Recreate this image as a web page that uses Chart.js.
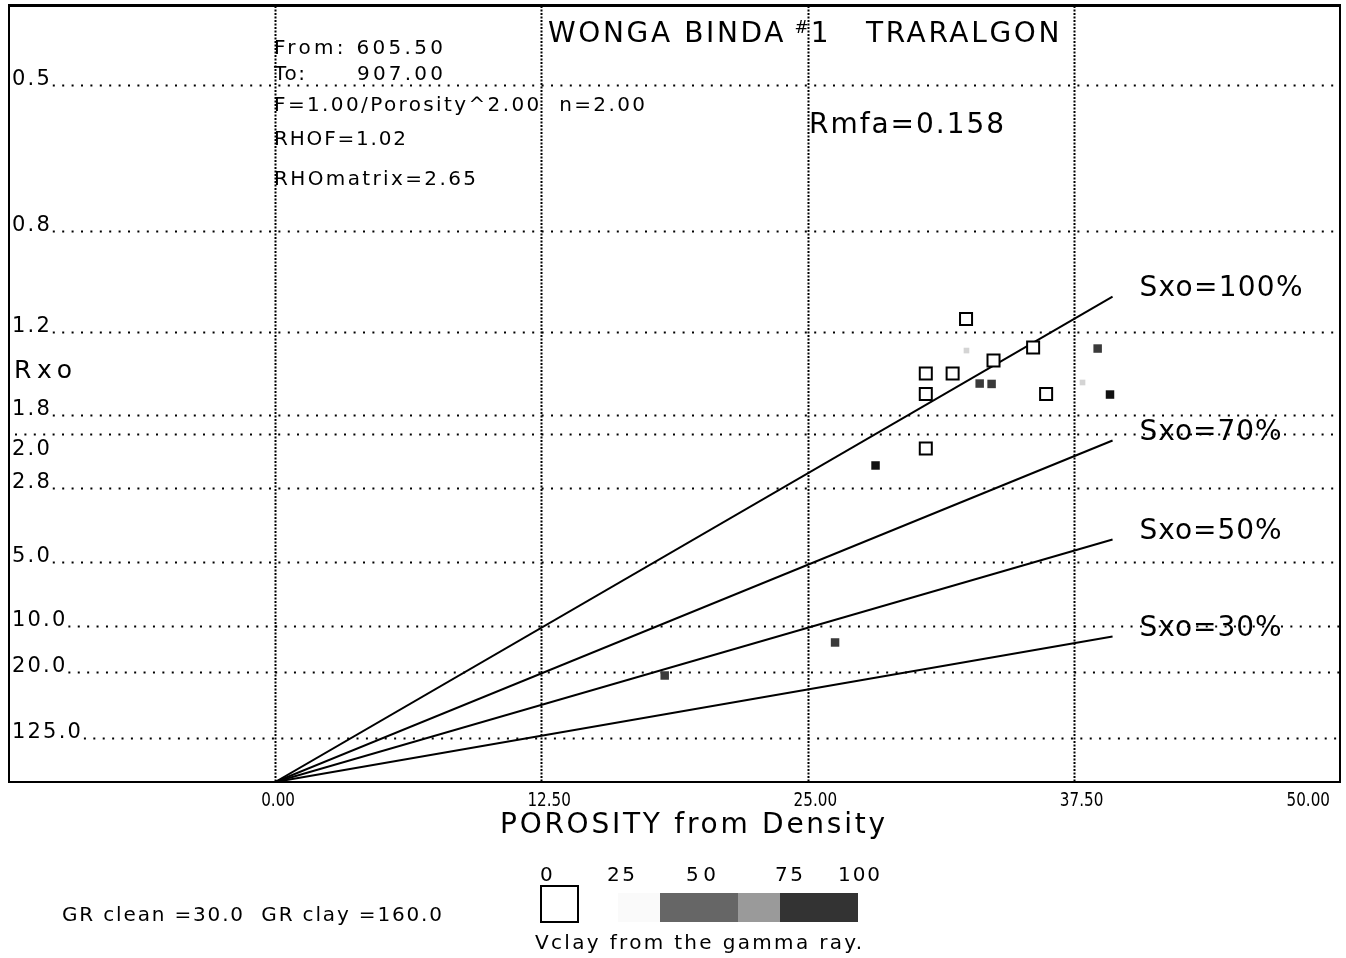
<!DOCTYPE html>
<html>
<head>
<meta charset="utf-8">
<title>WONGA BINDA #1 TRARALGON – Hingle plot</title>
<script src="https://cdn.jsdelivr.net/npm/chart.js@4.4.1/dist/chart.umd.min.js"></script>
<style>
  html, body { margin: 0; padding: 0; background: #fff; }
  #wrap { width: 1346px; height: 958px; }
</style>
</head>
<body>
<div id="wrap"><canvas id="hingle" width="1346" height="958"></canvas></div>
<script>
// Porosity axis (percent) and its printed tick labels
const porosityTicks = [0, 12.5, 25, 37.5, 50];
const porosityTickLabels = ['0.00', '12.50', '25.00', '37.50', '50.00'];

// Rxo grid levels (ohm.m) and their printed labels
const rxoTicks = [0.5, 0.8, 1.2, 1.8, 2.0, 2.8, 5.0, 10.0, 20.0, 125.0];
const rxoTickLabels = ['0.5', '0.8', '1.2', '1.8', '2.0', '2.8', '5.0', '10.0', '20.0', '125.0'];

// Samples: density porosity (%), Rxo (ohm.m), Vclay from gamma ray (%)
const samplePorosity = [32.44, 35.59, 33.73, 30.55, 31.81, 30.55, 36.20, 30.55, 38.62, 33.08, 33.64, 39.20, 28.19, 26.29, 18.29, 37.91, 32.46];
const sampleRxo      = [1.132, 1.286, 1.366, 1.455, 1.455, 1.612, 1.612, 2.183, 1.292, 1.529, 1.532, 1.617, 2.423, 12.47, 21.4, 1.521, 1.304];
const sampleVclay    = [0, 0, 0, 0, 0, 0, 0, 0, 75, 75, 75, 100, 100, 75, 75, 25, 25];

// Constant-Sxo lines: name, Rxo reached at the right-hand end porosity
const sxoLabels = ['Sxo=100%', 'Sxo=70%', 'Sxo=50%', 'Sxo=30%'];
const sxoEndRxo = [1.030, 2.082, 4.128, 11.47];
const sxoEndPorosity = 39.32;

// Vclay legend steps
const vclaySteps = [0, 25, 50, 75, 100];

// Header notes
const headerTitle = ['WONGA BINDA ', '#', '1   TRARALGON'];
const depthFrom = '605.50';
const depthTo = '907.00';
const paramLines = ['F=1.00/Porosity^2.00  n=2.00', 'RHOF=1.02', 'RHOmatrix=2.65'];
const rmfaText = 'Rmfa=0.158';
const grText = 'GR clean =30.0  GR clay =160.0';

// Hingle (m = 2) ordinate: conductivity to the power 1/2
const toAxis = r => 1 / Math.sqrt(r);

const FONT = '"DejaVu Sans", "Liberation Sans", sans-serif';

const vclayShade = v => v >= 100 ? '#111' : v >= 75 ? '#3a3a3a' : v >= 50 ? '#777' : v >= 25 ? '#d4d4d4' : '#fff';

function baseWidth(ctx, text, size) {
  ctx.save();
  ctx.font = size + 'px ' + FONT;
  ctx.letterSpacing = '0px';
  const w = ctx.measureText(text).width;
  ctx.restore();
  return w;
}

// Draw text; when `fit` is given the letter spacing is chosen so the text spans that width.
function drawText(ctx, text, x, y, size, opts) {
  const o = opts || {};
  const sx = o.hScale || 1;
  let spacing = o.spacing || 0;
  const n = [...text].length;
  const bw = baseWidth(ctx, text, size);
  if (o.fit && n > 1) spacing = (o.fit / sx - bw) / (n - 1);
  const w = (bw + spacing * (n - 1)) * sx;
  let x0 = x;
  if (o.align === 'right') x0 = x - w;
  else if (o.align === 'center') x0 = x - w / 2;
  ctx.save();
  ctx.font = size + 'px ' + FONT;
  ctx.letterSpacing = spacing + 'px';
  ctx.fillStyle = o.color || '#000';
  ctx.textBaseline = 'alphabetic';
  ctx.textAlign = 'left';
  ctx.translate(x0, y);
  ctx.scale(sx, 1);
  ctx.fillText(text, 0, 0);
  ctx.restore();
  return { w, spacing };
}

function dotted(ctx, x1, y1, x2, y2, dash, width) {
  ctx.save();
  ctx.strokeStyle = '#000';
  ctx.lineWidth = width;
  ctx.setLineDash(dash);
  ctx.beginPath();
  ctx.moveTo(x1, y1);
  ctx.lineTo(x2, y2);
  ctx.stroke();
  ctx.restore();
}

const hinglePlot = {
  id: 'hinglePlot',
  beforeDatasetsDraw(chart) {
    const { ctx, chartArea: a, scales: { x, y } } = chart;

    // vertical dotted grid at the porosity ticks (the last one is the frame)
    porosityTicks.forEach(t => {
      const px = Math.round(x.getPixelForValue(t)) + 0.5;
      if (px < a.right - 4) dotted(ctx, px, a.top, px, a.bottom, [2, 1.5], 2);
    });

    // horizontal dotted grid with Rxo labels sitting on the lines
    let prev = -1e9;
    rxoTicks.forEach((t, i) => {
      const py = Math.round(y.getPixelForValue(toAxis(t))) + 0.5;
      let startX;
      if (py - prev < 20) {
        drawText(ctx, rxoTickLabels[i], a.left + 3, py + 20, 21, { spacing: 2.2 });
        startX = a.left + 6;
      } else {
        const r = drawText(ctx, rxoTickLabels[i], a.left + 3, py - 1, 21, { spacing: 2.2 });
        startX = a.left + 3 + r.w + 3;
      }
      dotted(ctx, startX, py, a.right, py, [2, 7.4], 2);
      prev = py;
    });

    // porosity tick labels
    porosityTicks.forEach((t, i) => {
      const px = x.getPixelForValue(t);
      const lbl = porosityTickLabels[i];
      const w = baseWidth(ctx, lbl, 20) * 0.76;
      let lx = px - 14;
      if (lx + w > a.right - 6) lx = a.right - 10 - w;
      drawText(ctx, lbl, lx, a.bottom + 24, 20, { hScale: 0.76 });
    });
  },
  afterDatasetsDraw(chart) {
    const { ctx, chartArea: a, scales: { x, y } } = chart;

    // plot frame
    ctx.save();
    ctx.strokeStyle = '#000';
    ctx.lineWidth = 2;
    ctx.strokeRect(a.left, a.top, a.right - a.left, a.bottom - a.top);
    ctx.lineWidth = 3;
    ctx.beginPath();
    ctx.moveTo(a.left - 1, a.top - 0.5);
    ctx.lineTo(a.right + 1, a.top - 0.5);
    ctx.stroke();
    ctx.restore();

    // title, with a small raised '#'
    const tSize = 28, hashSize = 17;
    const titleChars = [...(headerTitle[0] + headerTitle[2])].length;
    const tBase = baseWidth(ctx, headerTitle[0], tSize) + baseWidth(ctx, headerTitle[2], tSize) + baseWidth(ctx, headerTitle[1], hashSize);
    const tSpacing = (1063 - 548 - tBase) / titleChars;
    let tx = 548;
    tx += drawText(ctx, headerTitle[0], tx, 42, tSize, { spacing: tSpacing }).w + tSpacing;
    tx += drawText(ctx, headerTitle[1], tx - 3, 33, hashSize).w - 1;
    drawText(ctx, headerTitle[2], tx, 42, tSize, { spacing: tSpacing });

    // run parameters
    drawText(ctx, 'From: ' + depthFrom, 274, 54, 20, { fit: 169 });
    drawText(ctx, 'To:', 274, 80, 20, { fit: 31 });
    drawText(ctx, depthTo, 443, 80, 20, { fit: 86, align: 'right' });
    drawText(ctx, paramLines[0], 274, 111, 20, { fit: 371 });
    drawText(ctx, paramLines[1], 274, 145, 20, { fit: 132 });
    drawText(ctx, paramLines[2], 274, 185, 20, { fit: 202 });
    drawText(ctx, rmfaText, 809, 133, 28, { fit: 195 });

    // axis names
    drawText(ctx, 'Rxo', 14, 378, 25, { fit: 58 });
    drawText(ctx, 'POROSITY from Density', 500, 833, 28, { fit: 385 });

    // Sxo line names at the line ends
    sxoLabels.forEach((s, i) => {
      const px = x.getPixelForValue(sxoEndPorosity) + 27;
      const py = y.getPixelForValue(toAxis(sxoEndRxo[i]));
      drawText(ctx, s, px, py - 1, 28, { fit: i === 0 ? 163 : 142 });
    });

    // Vclay legend
    const numX = [540, 607, 686, 775, 838];
    const numW = [12, 28, 30, 28, 42];
    vclaySteps.forEach((v, i) => drawText(ctx, String(v), numX[i], 881, 20, { fit: numW[i] }));
    ctx.save();
    ctx.strokeStyle = '#000';
    ctx.lineWidth = 2;
    ctx.fillStyle = '#fff';
    ctx.fillRect(541, 886, 37, 36);
    ctx.strokeRect(541, 886, 37, 36);
    ctx.fillStyle = '#fafafa';
    ctx.fillRect(618, 893, 42, 29);
    ctx.fillStyle = '#666';
    ctx.fillRect(660, 893, 78, 29);
    ctx.fillStyle = '#9a9a9a';
    ctx.fillRect(738, 893, 42, 29);
    ctx.fillStyle = '#333';
    ctx.fillRect(780, 893, 78, 29);
    ctx.restore();
    drawText(ctx, 'Vclay from the gamma ray.', 535, 949, 20, { fit: 327 });
    drawText(ctx, grText, 62, 921, 20, { fit: 380 });
  }
};

const sampleData = samplePorosity.map((p, i) => ({ x: p, y: toAxis(sampleRxo[i]) }));

const datasets = [
  {
    label: 'Samples',
    data: sampleData,
    showLine: false,
    pointStyle: 'rect',
    pointRadius: c => {
      const v = sampleVclay[c.dataIndex];
      return v === 0 ? 8.5 : v <= 25 ? 4 : 6;
    },
    pointBackgroundColor: c => vclayShade(sampleVclay[c.dataIndex]),
    pointBorderColor: c => sampleVclay[c.dataIndex] === 0 ? '#000' : vclayShade(sampleVclay[c.dataIndex]),
    pointBorderWidth: c => sampleVclay[c.dataIndex] === 0 ? 2 : 0
  }
];

sxoLabels.forEach((s, i) => {
  datasets.push({
    label: s,
    data: [{ x: 0, y: 0 }, { x: sxoEndPorosity, y: toAxis(sxoEndRxo[i]) }],
    showLine: true,
    borderColor: '#000',
    borderWidth: 2,
    pointRadius: 0,
    fill: false
  });
});

new Chart(document.getElementById('hingle'), {
  type: 'scatter',
  data: { datasets },
  options: {
    responsive: false,
    animation: false,
    devicePixelRatio: 1,
    layout: { autoPadding: false, padding: { left: 9, right: 6, top: 6, bottom: 176 } },
    plugins: { legend: { display: false }, tooltip: { enabled: false } },
    scales: {
      x: { type: 'linear', display: false, min: -12.5, max: 50 },
      y: { type: 'linear', display: false, min: 0, max: 1.575 }
    }
  },
  plugins: [hinglePlot]
});
</script>
</body>
</html>
